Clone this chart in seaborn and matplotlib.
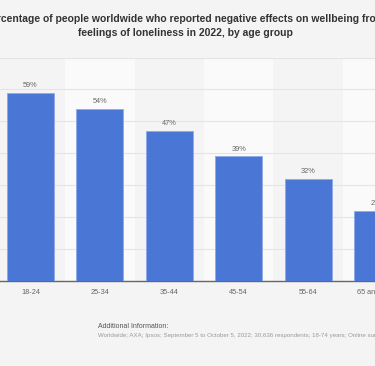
import numpy as np
import matplotlib
matplotlib.use("Agg")
import matplotlib.pyplot as plt
import seaborn as sns

# Chart data
age_groups = ["18-24", "25-34", "35-44", "45-54", "55-64", "65 and older"]
share = [59, 54, 47, 39, 32, 22]
value_labels = [f"{v}%" for v in share]
y_ticks = [0, 10, 20, 30, 40, 50, 60, 70]

title_text = ("Percentage of people worldwide who reported negative effects on wellbeing from\n"
              "feelings of loneliness in 2022, by age group")
info_title = "Additional Information:"
info_text = ("Worldwide; AXA; Ipsos; September 5 to October 5, 2022; 30,636 respondents; "
             "18-74 years; Online survey")

sns.set_style("white")
plt.rcParams["font.family"] = ["Liberation Sans", "DejaVu Sans"]

bg = "#f4f4f4"
band = "#fafafa"
bar_color = "#4a76d5"

W, H = 375, 366
fig = plt.figure(figsize=(W / 100, H / 100), dpi=100, facecolor=bg)

# plot area (pixels): baseline y=281, top y=57.5, category spacing 69.4 px, first center at x=30.5
step = 69.4
x0, x1 = -30.5 / step, 5.5
ax = fig.add_axes([0, (H - 281) / H, (x1 - x0) * step / W, (281 - 57.5) / H])
ax.set_facecolor(bg)

for i in range(len(age_groups)):
    if i % 2 == 1:
        ax.axvspan(i - 0.5, i + 0.5, color=band, zorder=0, lw=0)

sns.barplot(x=age_groups, y=share, color=bar_color, saturation=1, width=0.68,
            edgecolor="#8ea9e8", linewidth=0.6, ax=ax, zorder=3)

for i, (v, lab) in enumerate(zip(share, value_labels)):
    ax.text(i, v + 1.2, lab, ha="center", va="bottom", fontsize=5.3, color="#666666",
            clip_on=False, zorder=4)

ax.set_xlim(x0, x1)
ax.set_ylim(0, 70)
ax.set_yticks(y_ticks)
ax.yaxis.grid(True, color="#e4e4e4", linewidth=0.8, zorder=1)
ax.set_axisbelow(True)
ax.tick_params(axis="y", left=False, labelleft=False)
ax.tick_params(axis="x", length=0, pad=5.5, labelsize=5.3, labelcolor="#666666")
ax.set_xlabel("")
ax.set_ylabel("")
for side in ["left", "right", "top"]:
    ax.spines[side].set_visible(False)
ax.spines["bottom"].set_color("#666666")
ax.spines["bottom"].set_linewidth(1)

fig.text(185 / W, 1 - 26 / H, title_text, ha="center", va="center", fontsize=7.45,
         fontweight="bold", color="#333333", linespacing=1.55)
fig.text(98 / W, 1 - 327 / H, info_title, ha="left", va="center", fontsize=5,
         color="#555555")
fig.text(98 / W, 1 - 336 / H, info_text, ha="left", va="center", fontsize=4.45,
         color="#9a9a9a")

fig.savefig("out.png", dpi=100, facecolor=bg)
